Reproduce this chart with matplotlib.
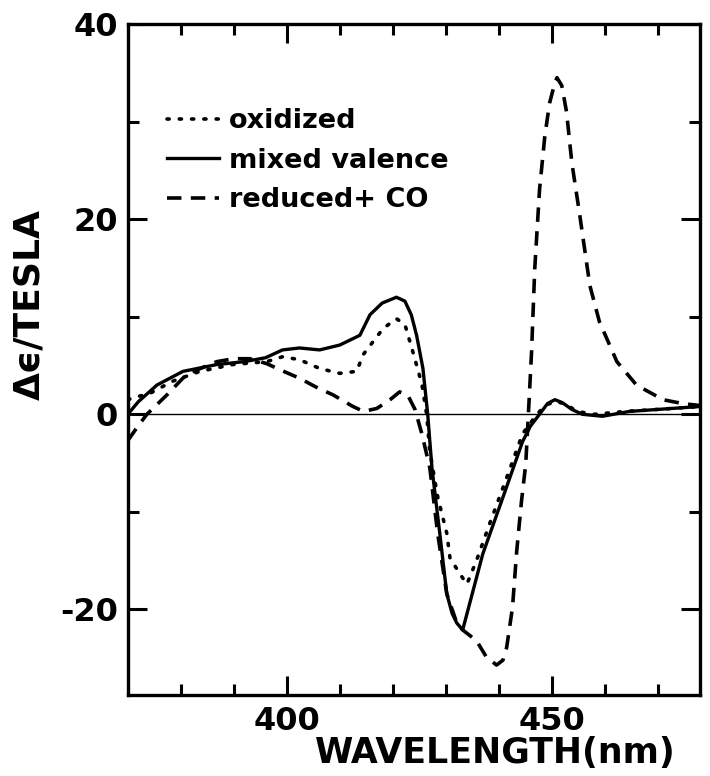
import matplotlib
matplotlib.use('Agg')
import matplotlib.pyplot as plt
from matplotlib.ticker import MultipleLocator

plt.rcParams['font.family'] = ['DejaVu Sans']
plt.rcParams['axes.unicode_minus'] = False

# MCD spectra: wavelength (nm) vs delta epsilon per tesla
wl_mixed = [370, 372, 375.5, 380.4, 386.8, 392, 396, 399.2, 402.4, 406.2, 410, 413.8,
            415.7, 418, 420.7, 422.3, 423.5, 424.5, 425.7, 426.6, 427.4, 428.9, 430.2,
            431.2, 432.1, 433.2, 437, 440.8, 444.5, 446, 447.7, 449.2, 450.6, 452,
            453.8, 455.8, 459.6, 464.7, 470, 478]
de_mixed = [0, 1.3, 3.0, 4.4, 5.1, 5.4, 5.8, 6.6, 6.8, 6.6, 7.1, 8.1,
            10.2, 11.4, 12.0, 11.6, 10.2, 8.1, 4.7, 0, -5.5, -12.3, -18.4,
            -20.4, -21.4, -22.1, -14.3, -8.5, -2.8, -1.2, 0, 1.1, 1.5, 1.2,
            0.5, 0, -0.2, 0.3, 0.5, 0.8]

wl_ox = [370, 371.7, 374, 378.5, 383.6, 389.8, 396.2, 399.2, 402.4, 406.2, 410, 413.2,
         414.4, 416.5, 418.2, 420.7, 422.3, 423.8, 425.5, 426.4, 427, 428.5, 430.2,
         430.8, 432.6, 434, 435.8, 438.3, 441.5, 444.5, 447.2, 449, 451, 452.8,
         454.7, 458, 464, 470, 478]
de_ox = [1.5, 1.8, 2.1, 3.4, 4.4, 5.1, 5.4, 5.9, 5.6, 4.7, 4.2, 4.4,
         6.1, 7.6, 8.8, 9.8, 9.2, 6.4, 3.1, 0, -3.8, -8.5, -12.2,
         -14.7, -16.3, -17.4, -15, -11.2, -6.5, -2, 0, 1.0, 1.3, 1.0,
         0.3, 0, 0.3, 0.5, 0.8]

wl_co = [370, 371.8, 373.6, 377.4, 381.1, 386.8, 390, 393, 396.2, 399, 402.4, 405.5,
         408.7, 412.5, 414.5, 417, 419.5, 421.3, 422.8, 424.2, 425.5, 427, 428.5,
         430.2, 432.1, 433.2, 435.8, 437.7, 439.6, 440.8, 441.5, 442.6, 443.4, 444.3,
         445.1, 445.6, 446.2, 446.8, 447.7, 448.7, 449.6, 450.6, 451, 451.9, 452.8,
         453.8, 455.3, 457.2, 459, 462.3, 466, 471, 474.7, 478]
de_co = [-2.7, -1.3, 0, 2.0, 4.1, 5.4, 5.7, 5.7, 5.2, 4.5, 3.7, 2.8,
         2.0, 0.8, 0.3, 0.6, 1.5, 2.3, 2.0, 0.5, -2, -5.5, -12.3,
         -18.4, -21.4, -22.1, -23.2, -24.9, -25.7, -25.2, -23.9, -19.8, -14, -8.9,
         -5.1, 0, 6.4, 14.9, 23, 28.5, 31.9, 34, 34.5, 33.7, 31,
         25.8, 20.4, 13.2, 9.5, 5.4, 3.0, 1.5, 1.1, 0.9]

labels = ['oxidized', 'mixed valence', 'reduced+ CO']

fig = plt.figure(figsize=(7.1, 7.76), dpi=100)
ax = fig.add_axes([0.180, 0.104, 0.806, 0.865])

ax.axhline(0, color='k', lw=1.0)
ax.plot(wl_ox, de_ox, color='k', lw=2.6, linestyle=(0, (0.6, 2.8)),
        dash_capstyle='round', label=labels[0])
ax.plot(wl_mixed, de_mixed, color='k', lw=2.4, label=labels[1])
ax.plot(wl_co, de_co, color='k', lw=2.6, linestyle=(0, (4.0, 2.6)), label=labels[2])

ax.set_xlim(370, 478)
ax.set_ylim(-28.8, 40)
ax.xaxis.set_major_locator(MultipleLocator(50))
ax.xaxis.set_minor_locator(MultipleLocator(10))
ax.yaxis.set_major_locator(MultipleLocator(20))
ax.yaxis.set_minor_locator(MultipleLocator(10))
ax.tick_params(which='both', direction='in', top=True, right=True, width=2.2,
               labelsize=23)
ax.tick_params(which='major', length=14)
ax.tick_params(which='minor', length=8)
ax.tick_params(axis='x', pad=8)
ax.tick_params(axis='y', pad=7)
for tl in ax.get_xticklabels() + ax.get_yticklabels():
    tl.set_fontweight('bold')
for s in ax.spines.values():
    s.set_linewidth(2.4)

ax.set_xlabel('WAVELENGTH(nm)', fontsize=25, fontweight='bold')
ax.xaxis.set_label_coords(0.643, -0.060)
fig.text(0.041, 0.607, 'Δϵ/TESLA', rotation=90, fontsize=26, fontweight='bold',
         ha='center', va='center')

leg = ax.legend(loc='upper left', bbox_to_anchor=(0.05, 0.891), frameon=False,
                fontsize=19.5, handlelength=1.9, handletextpad=0.37,
                labelspacing=0.5, borderaxespad=0)
for t in leg.get_texts():
    t.set_fontweight('bold')

fig.savefig('out.png', dpi=100)
